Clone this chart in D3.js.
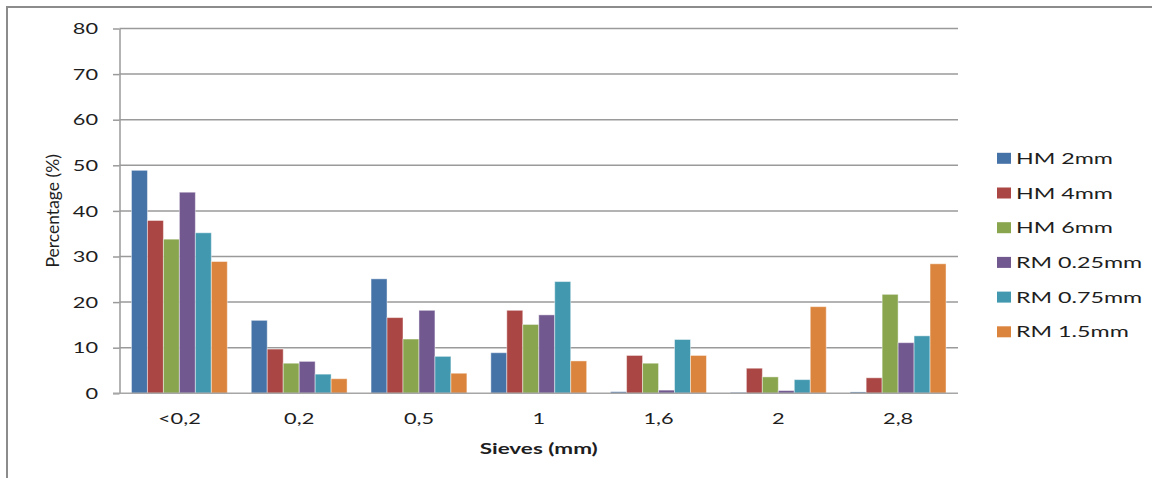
<!DOCTYPE html>
<html>
<head>
<meta charset="utf-8">
<script src="https://cdn.jsdelivr.net/npm/d3@7"></script>
<style>
  html, body { margin: 0; padding: 0; background: #fff; }
  svg { display: block; }
  text { font-family: Lato, "Open Sans", sans-serif; fill: #1e1e1e; }
</style>
</head>
<body>
<svg id="chart" width="1152" height="478"></svg>
<script>
const categories = ["<0,2", "0,2", "0,5", "1", "1,6", "2", "2,8"];
const seriesNames = ["HM 2mm", "HM 4mm", "HM 6mm", "RM 0.25mm", "RM 0.75mm", "RM 1.5mm"];
const hm2   = [48.9, 16.0, 25.1,  8.9, 0.35, 0.2, 0.3];
const hm4   = [37.9,  9.7, 16.6, 18.2, 8.3,  5.5, 3.4];
const hm6   = [33.8,  6.6, 11.9, 15.1, 6.6,  3.6, 21.7];
const rm025 = [44.1,  7.0, 18.2, 17.2, 0.7,  0.6, 11.1];
const rm075 = [35.2,  4.2,  8.1, 24.5, 11.8, 3.0, 12.6];
const rm15  = [28.9,  3.2,  4.4,  7.1, 8.3, 19.0, 28.4];
const yTicks = [0, 10, 20, 30, 40, 50, 60, 70, 80];
const colors = ["#4572A7", "#AA4643", "#89A54E", "#71588F", "#4198AF", "#DB843D"];
const yTitle = "Percentage (%)";
const xTitle = "Sieves (mm)";

(function () {
const series = [hm2, hm4, hm6, rm025, rm075, rm15];
const SX = 1.5; // horizontal text stretch seen in the reference

const svg = d3.select("#chart");

// outer frame
svg.append("path")
  .attr("d", "M7,478 L7,7 L1152,7")
  .attr("fill", "none").attr("stroke", "#8c8c8c").attr("stroke-width", 2);

const pL = 119.5, pR = 958, pT = 28.5, pB = 393.3;

const x = d3.scaleBand().domain(categories).range([pL, pR]).paddingInner(0.2).paddingOuter(0.1);
const xs = d3.scaleBand().domain(d3.range(series.length)).range([0, x.bandwidth()]).padding(0);
const y = d3.scaleLinear().domain([0, 80]).range([pB, pT]);

// gridlines
svg.append("g").selectAll("line").data(yTicks.filter(d => d > 0)).join("line")
  .attr("x1", pL).attr("x2", pR)
  .attr("y1", d => y(d)).attr("y2", d => y(d))
  .attr("stroke", "#9a9a9a").attr("stroke-width", 1.5);

// bars
const groups = svg.append("g").selectAll("g").data(series).join("g")
  .attr("fill", (d, i) => colors[i]);
groups.each(function(vals, si) {
  d3.select(this).selectAll("rect").data(vals).join("rect")
    .attr("x", (v, ci) => x(categories[ci]) + xs(si))
    .attr("y", v => y(v))
    .attr("width", xs.bandwidth())
    .attr("height", v => pB - y(v))
    .attr("stroke", "rgba(255,255,255,0.45)")
    .attr("stroke-width", 1);
});

// y axis
const yAxis = svg.append("g").attr("transform", `translate(${pL},0)`)
  .call(d3.axisLeft(y).tickValues(yTicks).tickSize(6.5).tickSizeOuter(0));
yAxis.select(".domain").attr("stroke", "#9a9a9a").attr("stroke-width", 1.5);
yAxis.selectAll(".tick line").attr("stroke", "#9a9a9a").attr("stroke-width", 1.5);
yAxis.selectAll(".tick text")
  .attr("x", -21.5 / SX).attr("dy", "0.36em")
  .attr("transform", `scale(${SX},1)`)
  .style("font-size", "14.5px").style("font-family", "Lato, sans-serif").attr("fill", "#1e1e1e");

// x axis
const xAxis = svg.append("g").attr("transform", `translate(0,${pB})`)
  .call(d3.axisBottom(x).tickSize(0).tickSizeOuter(0));
xAxis.select(".domain").attr("d", `M${pL - 6.5},0H${pR}`).attr("stroke", "#a6a6a6").attr("stroke-width", 1.5);
xAxis.selectAll(".tick text")
  .attr("y", 31).attr("dy", 0).attr("x", 0)
  .style("font-size", "14.5px").style("font-family", "Lato, sans-serif").attr("fill", "#1e1e1e");
xAxis.selectAll(".tick").each(function(d) {
  const cx = x(d) + x.bandwidth() / 2;
  d3.select(this).attr("transform", null);
  d3.select(this).select("text").attr("transform", `translate(${cx},0) scale(${SX},1)`);
});

// axis titles
svg.append("text")
  .attr("transform", `translate(538.7,453.5) scale(${SX},1)`)
  .attr("text-anchor", "middle")
  .style("font-size", "15px").style("font-weight", "bold")
  .text(xTitle);

svg.append("text")
  .attr("transform", `translate(59,210.8) rotate(-90)`)
  .attr("text-anchor", "middle")
  .style("font-size", "17.5px")
  .text(yTitle);

// legend
const legend = svg.append("g");
const rowY = d => 158.3 + d * 34.7;
legend.selectAll("rect").data(seriesNames).join("rect")
  .attr("x", 997).attr("y", (d, i) => rowY(i) - 5.5)
  .attr("width", 14).attr("height", 11)
  .attr("fill", (d, i) => colors[i]);
legend.selectAll("text").data(seriesNames).join("text")
  .attr("transform", (d, i) => `translate(1016,${rowY(i) + 5.5}) scale(${SX},1)`)
  .style("font-size", "15.5px")
  .text(d => d);
})();
</script>
</body>
</html>
